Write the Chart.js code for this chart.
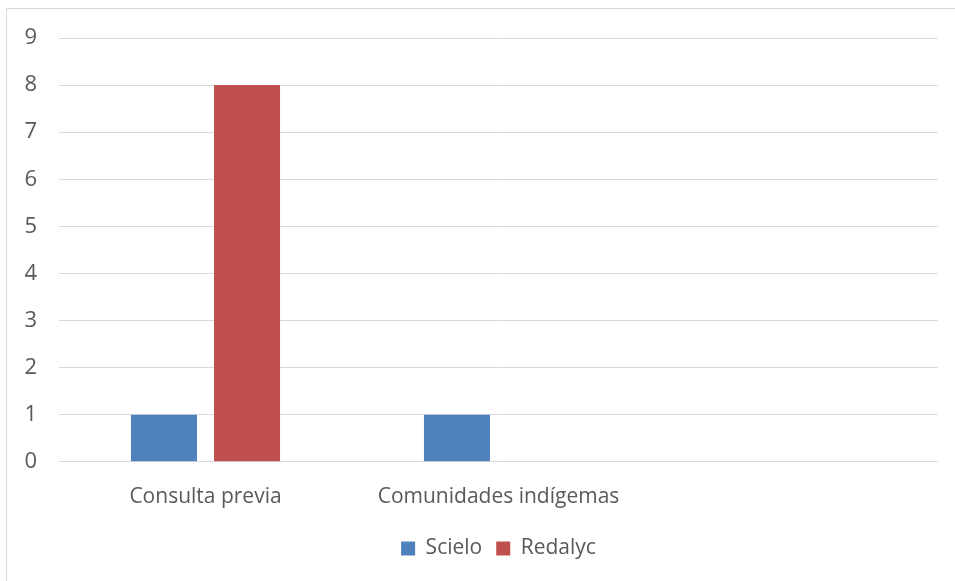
<!DOCTYPE html>
<html>
<head>
<meta charset="utf-8">
<script src="https://cdn.jsdelivr.net/npm/chart.js@4"></script>
<style>
    html, body { margin: 0; padding: 0; background: #fff; overflow: hidden; }
    .frame {
        position: absolute; left: 6px; top: 8px; width: 1000px; height: 700px;
        border: 1px solid #d9d9d9;
    }
    .wrap { position: absolute; left: 0; top: 0; width: 955px; height: 581px; }
</style>
</head>
<body>
<div class="frame"></div>
<div class="wrap"><canvas id="bar-chart"></canvas></div>
<script>
// categories and series
const categories = ['Consulta previa', 'Comunidades indígemas', ''];
const scielo = [1, 1, null];
const redalyc = [8, 0, null];
const yTicks = [0, 1, 2, 3, 4, 5, 6, 7, 8, 9];

document.addEventListener('DOMContentLoaded', () => {
    const fontFamily = '"Open Sans", Lato, sans-serif';
    const textColor = '#595959';

    new Chart(document.getElementById('bar-chart'), {
        type: 'bar',
        data: {
            labels: categories,
            datasets: [{
                label: 'Scielo',
                data: scielo,
                backgroundColor: '#4f81bd'
            }, {
                label: 'Redalyc',
                data: redalyc,
                backgroundColor: '#c0504d'
            }]
        },
        options: {
            responsive: true,
            maintainAspectRatio: false,
            animation: false,
            datasets: {
                bar: {
                    categoryPercentage: 0.567,
                    barPercentage: 0.795
                }
            },
            layout: {
                padding: { left: 0, top: 38, right: 17, bottom: 12 }
            },
            plugins: {
                tooltip: { enabled: false },
                legend: {
                    position: 'bottom',
                    // centred under the plot area, like the original
                    fullSize: false,
                    labels: {
                        boxWidth: 14,
                        boxHeight: 14,
                        padding: 14,
                        color: textColor,
                        font: { family: fontFamily, size: 21 }
                    }
                }
            },
            scales: {
                x: {
                    grid: { display: false },
                    border: { display: false },
                    afterFit: (scale) => {
                        scale.height -= 1;
                    },
                    ticks: {
                        color: textColor,
                        padding: 15,
                        font: { family: fontFamily, size: 21 }
                    }
                },
                y: {
                    min: 0,
                    max: 9,
                    afterBuildTicks: (scale) => {
                        scale.ticks = yTicks.map(v => ({ value: v }));
                    },
                    afterFit: (scale) => {
                        scale.width = 59;
                    },
                    grid: { color: '#d9d9d9', lineWidth: 1, drawTicks: false },
                    border: { display: false },
                    ticks: {
                        color: textColor,
                        padding: 22,
                        font: { family: fontFamily, size: 22 }
                    }
                }
            }
        }
    });
});
</script>
</body>
</html>
